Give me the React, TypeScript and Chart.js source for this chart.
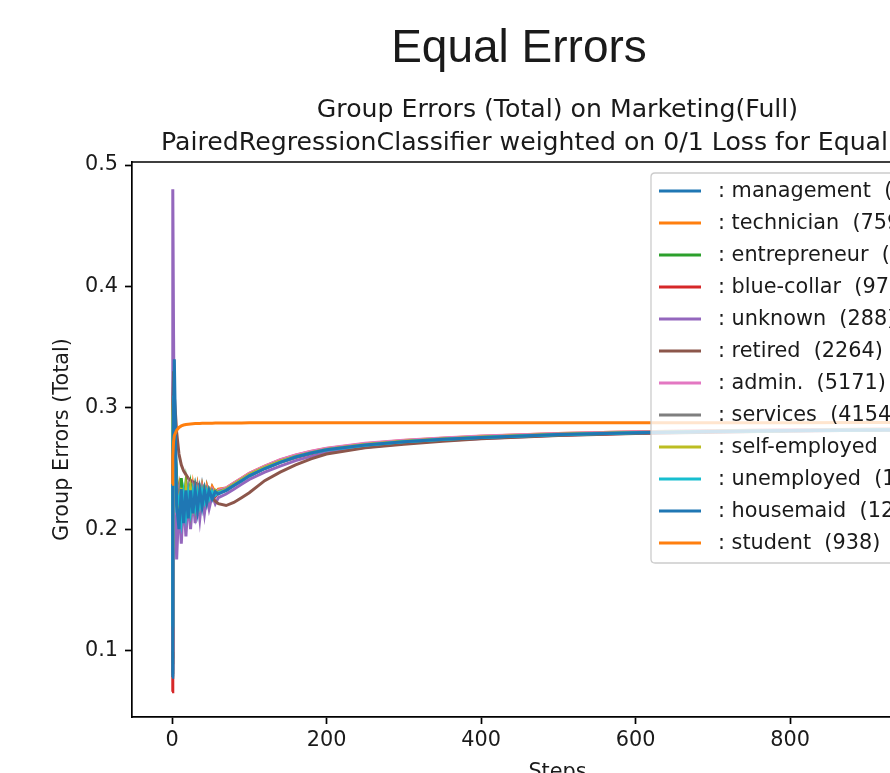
import { useEffect, useRef } from 'react';
import { Chart, registerables } from 'chart.js';

Chart.register(...registerables);

const steps = [0, 1, 2, 3, 6, 9, 12, 15, 18, 21, 24, 27, 30, 33, 36, 39, 42, 45, 48, 52, 56, 60, 70, 80, 90, 100, 120, 140, 160, 180, 200, 250, 300, 350, 400, 500, 600, 700, 800, 900, 1000];

const management = [0.082, 0.27, 0.33, 0.30, 0.215, 0.232, 0.203, 0.233, 0.208, 0.233, 0.212, 0.233, 0.215, 0.233, 0.218, 0.234, 0.221, 0.234, 0.224, 0.234, 0.228, 0.232, 0.233, 0.237, 0.241, 0.245, 0.251, 0.256, 0.260, 0.263, 0.2655, 0.2695, 0.2722, 0.2742, 0.2757, 0.2781, 0.2796, 0.2806, 0.2813, 0.2819, 0.2823];
const technician = [0.095, 0.26, 0.31, 0.29, 0.225, 0.235, 0.21, 0.235, 0.214, 0.235, 0.217, 0.235, 0.22, 0.235, 0.222, 0.235, 0.225, 0.235, 0.227, 0.235, 0.23, 0.233, 0.234, 0.238, 0.242, 0.246, 0.252, 0.257, 0.261, 0.264, 0.2665, 0.2705, 0.273, 0.275, 0.2765, 0.2788, 0.2802, 0.2811, 0.2818, 0.2823, 0.2827];
const entrepreneur = [0.11, 0.29, 0.32, 0.28, 0.243, 0.215, 0.242, 0.218, 0.238, 0.22, 0.236, 0.222, 0.235, 0.224, 0.234, 0.226, 0.234, 0.228, 0.233, 0.229, 0.232, 0.231, 0.233, 0.237, 0.241, 0.245, 0.251, 0.256, 0.26, 0.2632, 0.2658, 0.2698, 0.2725, 0.2745, 0.276, 0.2783, 0.2797, 0.2807, 0.2814, 0.282, 0.2824];
const blueCollar = [0.066, 0.25, 0.31, 0.28, 0.21, 0.228, 0.205, 0.229, 0.21, 0.229, 0.213, 0.23, 0.216, 0.23, 0.219, 0.231, 0.222, 0.231, 0.224, 0.231, 0.227, 0.23, 0.232, 0.236, 0.24, 0.244, 0.25, 0.255, 0.259, 0.2622, 0.2648, 0.2688, 0.2716, 0.2737, 0.2753, 0.2777, 0.2793, 0.2804, 0.2811, 0.2817, 0.2821];
const unknown = [0.085, 0.48, 0.36, 0.27, 0.175, 0.224, 0.188, 0.226, 0.194, 0.226, 0.2, 0.227, 0.205, 0.227, 0.209, 0.228, 0.213, 0.228, 0.217, 0.228, 0.221, 0.226, 0.229, 0.233, 0.237, 0.241, 0.247, 0.252, 0.2565, 0.26, 0.263, 0.2675, 0.2707, 0.273, 0.2748, 0.2774, 0.279, 0.2801, 0.2809, 0.2815, 0.282];
const retired = [0.09, 0.30, 0.33, 0.31, 0.28, 0.262, 0.253, 0.248, 0.245, 0.242, 0.240, 0.239, 0.238, 0.237, 0.235, 0.234, 0.233, 0.231, 0.229, 0.226, 0.223, 0.221, 0.2195, 0.222, 0.226, 0.230, 0.240, 0.247, 0.253, 0.258, 0.262, 0.267, 0.270, 0.2725, 0.2745, 0.2772, 0.2788, 0.2799, 0.2808, 0.2815, 0.282];
const admin = [0.1, 0.28, 0.3, 0.27, 0.222, 0.232, 0.21, 0.232, 0.213, 0.232, 0.216, 0.232, 0.219, 0.233, 0.221, 0.233, 0.224, 0.233, 0.226, 0.233, 0.229, 0.232, 0.234, 0.238, 0.242, 0.246, 0.252, 0.2572, 0.2612, 0.2642, 0.2668, 0.2708, 0.2733, 0.2752, 0.2767, 0.2789, 0.2803, 0.2812, 0.2819, 0.2824, 0.2828];
const services = [0.08, 0.26, 0.3, 0.28, 0.218, 0.23, 0.207, 0.231, 0.211, 0.231, 0.214, 0.231, 0.217, 0.232, 0.22, 0.232, 0.223, 0.232, 0.225, 0.232, 0.228, 0.231, 0.233, 0.237, 0.241, 0.245, 0.251, 0.256, 0.26, 0.263, 0.2656, 0.2696, 0.2723, 0.2743, 0.2758, 0.2782, 0.2797, 0.2807, 0.2814, 0.282, 0.2824];
const selfEmployed = [0.186, 0.29, 0.31, 0.27, 0.23, 0.212, 0.234, 0.215, 0.234, 0.218, 0.233, 0.22, 0.233, 0.222, 0.233, 0.224, 0.233, 0.226, 0.233, 0.228, 0.232, 0.23, 0.233, 0.237, 0.241, 0.245, 0.251, 0.256, 0.26, 0.263, 0.2657, 0.2697, 0.2724, 0.2744, 0.2759, 0.2782, 0.2797, 0.2807, 0.2814, 0.282, 0.2824];
const unemployed = [0.12, 0.27, 0.31, 0.28, 0.22, 0.226, 0.208, 0.228, 0.212, 0.229, 0.215, 0.23, 0.218, 0.23, 0.22, 0.231, 0.223, 0.231, 0.225, 0.231, 0.228, 0.23, 0.232, 0.236, 0.24, 0.244, 0.25, 0.255, 0.2595, 0.2627, 0.2652, 0.2692, 0.272, 0.274, 0.2755, 0.2779, 0.2795, 0.2805, 0.2812, 0.2818, 0.2822];
const housemaid = [0.078, 0.25, 0.3, 0.34, 0.22, 0.2, 0.233, 0.205, 0.232, 0.209, 0.232, 0.213, 0.232, 0.216, 0.232, 0.219, 0.232, 0.222, 0.232, 0.225, 0.231, 0.229, 0.232, 0.236, 0.24, 0.244, 0.25, 0.255, 0.2595, 0.2628, 0.2654, 0.2694, 0.2721, 0.2741, 0.2756, 0.278, 0.2795, 0.2805, 0.2813, 0.2818, 0.2822];
const student = [0.237, 0.26, 0.272, 0.277, 0.2815, 0.2838, 0.2851, 0.2858, 0.2862, 0.2865, 0.2867, 0.2869, 0.287, 0.2871, 0.2871, 0.2872, 0.2872, 0.2873, 0.2873, 0.2873, 0.2874, 0.2874, 0.2875, 0.2875, 0.2875, 0.2876, 0.2876, 0.2876, 0.2876, 0.2877, 0.2877, 0.2877, 0.2877, 0.2877, 0.2878, 0.2878, 0.2878, 0.2878, 0.2878, 0.2879, 0.2879];

const seriesLabels = [
  ': management  (9458)',
  ': technician  (7597)',
  ': entrepreneur  (1487)',
  ': blue-collar  (9732)',
  ': unknown  (288)',
  ': retired  (2264)',
  ': admin.  (5171)',
  ': services  (4154)',
  ': self-employed  (1579)',
  ': unemployed  (1303)',
  ': housemaid  (1240)',
  ': student  (938)',
];
const seriesColors = ['#1f77b4', '#ff7f0e', '#2ca02c', '#d62728', '#9467bd', '#8c564b', '#e377c2', '#7f7f7f', '#bcbd22', '#17becf', '#1f77b4', '#ff7f0e'];

const xTickValues = [0, 200, 400, 600, 800, 1000];
const yTickValues = [0.1, 0.2, 0.3, 0.4, 0.5];

const suptitle = 'Equal Errors';
const titleLines = ['Group Errors (Total) on Marketing(Full)', 'PairedRegressionClassifier weighted on 0/1 Loss for Equal Errors'];
const xLabel = 'Steps';
const yLabel = 'Group Errors (Total)';

const W = 1036;
const H = 800;
const FONT = 'DejaVu Sans';
const FS = 20.8;

const decorPlugin = {
  id: 'decor',
  afterDraw(chart: any) {
    const ctx = chart.ctx as CanvasRenderingContext2D;
    const a = chart.chartArea;
    ctx.save();
    // top and right spines
    ctx.strokeStyle = '#000';
    ctx.lineWidth = 1.7;
    ctx.beginPath();
    ctx.moveTo(a.left, a.top);
    ctx.lineTo(a.right, a.top);
    ctx.lineTo(a.right, a.bottom);
    ctx.stroke();

    // legend
    const lx = 651, ly = 173, lw = 322, lh = 390, r = 4;
    ctx.beginPath();
    ctx.moveTo(lx + r, ly);
    ctx.lineTo(lx + lw - r, ly);
    ctx.quadraticCurveTo(lx + lw, ly, lx + lw, ly + r);
    ctx.lineTo(lx + lw, ly + lh - r);
    ctx.quadraticCurveTo(lx + lw, ly + lh, lx + lw - r, ly + lh);
    ctx.lineTo(lx + r, ly + lh);
    ctx.quadraticCurveTo(lx, ly + lh, lx, ly + lh - r);
    ctx.lineTo(lx, ly + r);
    ctx.quadraticCurveTo(lx, ly, lx + r, ly);
    ctx.closePath();
    ctx.fillStyle = 'rgba(255,255,255,0.8)';
    ctx.fill();
    ctx.strokeStyle = '#cccccc';
    ctx.lineWidth = 1.3;
    ctx.stroke();
    ctx.font = `${FS}px "${FONT}"`;
    ctx.textAlign = 'left';
    ctx.textBaseline = 'middle';
    chart.data.datasets.forEach((ds: any, i: number) => {
      const y = 191 + i * 32;
      ctx.strokeStyle = ds.borderColor;
      ctx.lineWidth = 3;
      ctx.beginPath();
      ctx.moveTo(659, y);
      ctx.lineTo(701, y);
      ctx.stroke();
      ctx.fillStyle = '#1a1a1a';
      ctx.fillText(ds.label, 718, y + 1);
    });

    // titles
    ctx.fillStyle = '#1a1a1a';
    ctx.textAlign = 'center';
    ctx.textBaseline = 'alphabetic';
    ctx.font = `46px "Liberation Sans"`;
    ctx.fillText(suptitle, 519, 62);
    ctx.font = `25.2px "${FONT}"`;
    const cx = (a.left + a.right) / 2;
    ctx.fillText(titleLines[0], cx, 117);
    ctx.textAlign = 'left';
    ctx.fillText(titleLines[1], 161, 150);
    ctx.textAlign = 'center';

    // axis labels
    ctx.font = `${FS}px "${FONT}"`;
    ctx.fillText(xLabel, cx, 778);
    ctx.save();
    ctx.translate(63, (a.top + a.bottom) / 2);
    ctx.rotate(-Math.PI / 2);
    ctx.textBaseline = 'middle';
    ctx.fillText(yLabel, 0, 0);
    ctx.restore();
    ctx.restore();
  },
};

export default function App() {
  const ref = useRef<HTMLCanvasElement>(null);
  useEffect(() => {
    const canvas = ref.current;
    if (!canvas) return;
    const seriesValues = [management, technician, entrepreneur, blueCollar, unknown, retired, admin, services, selfEmployed, unemployed, housemaid, student];
    const chart = new Chart(canvas, {
      type: 'line',
      data: {
        datasets: seriesValues.map((vals, i) => ({
          label: seriesLabels[i],
          data: steps.map((s, j) => ({ x: s, y: vals[j] })),
          borderColor: seriesColors[i],
          backgroundColor: seriesColors[i],
          borderWidth: 3,
          pointRadius: 0,
          fill: false,
          tension: 0,
          order: seriesValues.length - i,
        })),
      },
      options: {
        responsive: false,
        animation: false,
        devicePixelRatio: 1,
        events: [],
        layout: { padding: { top: 162, left: 0, right: 53, bottom: 0 } },
        plugins: {
          legend: { display: false },
          title: { display: false },
          tooltip: { enabled: false },
        },
        scales: {
          x: {
            type: 'linear',
            min: -51.8,
            max: 1049.8,
            afterFit: (s: any) => { s.height = H - 717; },
            afterBuildTicks: (s: any) => { s.ticks = xTickValues.map((v) => ({ value: v })); },
            ticks: {
              font: { family: FONT, size: FS },
              color: '#1a1a1a',
              padding: 4,
              maxRotation: 0,
              autoSkip: false,
              callback: (v: any) => String(v),
            },
            grid: { drawOnChartArea: false, drawTicks: true, tickLength: 7, tickWidth: 1.7, tickColor: '#000' },
            border: { display: true, color: '#000', width: 1.7 },
          },
          y: {
            type: 'linear',
            min: 0.0453,
            max: 0.5025,
            afterFit: (s: any) => { s.width = 132; },
            afterBuildTicks: (s: any) => { s.ticks = yTickValues.map((v) => ({ value: v })); },
            ticks: {
              font: { family: FONT, size: FS },
              color: '#1a1a1a',
              padding: 7,
              autoSkip: false,
              callback: (v: any) => String(v),
            },
            grid: { drawOnChartArea: false, drawTicks: true, tickLength: 7, tickWidth: 1.7, tickColor: '#000' },
            border: { display: true, color: '#000', width: 1.7 },
          },
        },
      },
      plugins: [decorPlugin],
    } as any);
    return () => chart.destroy();
  }, []);
  return (
    <div style={{ position: 'fixed', left: 0, top: 0, width: 890, height: 773, overflow: 'hidden', background: '#fff' }}>
      <canvas ref={ref} width={W} height={H} style={{ display: 'block', width: W, height: H }} />
    </div>
  );
}
